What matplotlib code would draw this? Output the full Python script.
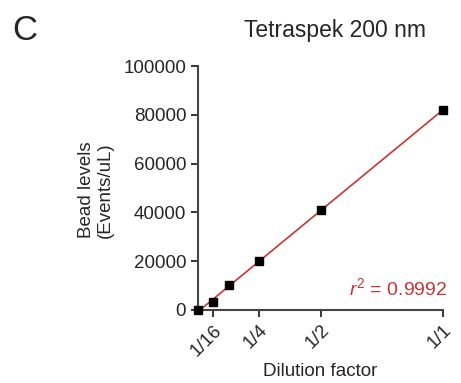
import numpy as np
import matplotlib
matplotlib.use("Agg")
import matplotlib.pyplot as plt

plt.rcParams['font.family'] = ['Liberation Sans', 'DejaVu Sans']
plt.rcParams['mathtext.fontset'] = 'custom'
plt.rcParams['mathtext.rm'] = 'Liberation Sans'
plt.rcParams['mathtext.it'] = 'Liberation Sans:italic'

## data
dilution = [0, 1/16, 1/8, 1/4, 1/2, 1]
beads = [0, 3300, 10200, 20000, 40800, 82000]
xticks = [1/16, 1/4, 1/2, 1]
xticklabels = ["1/16", "1/4", "1/2", "1/1"]
yticks = [0, 20000, 40000, 60000, 80000, 100000]
r2_text = r"$r^2$ = 0.9992"

txt = "#262626"
red = "#cc3333"

fig = plt.figure(figsize=(4.61, 3.83), dpi=100)
ax = fig.add_axes([198/461, 1-310/383, 245/461, 244/383])

# linear fit through the points
x = np.array(dilution)
y = np.array(beads)
slope, icpt = np.polyfit(x, y, 1)
xf = np.array([x.min(), x.max()])
ax.plot(xf, slope*xf + icpt, color=red, lw=1.2, zorder=2)
ax.plot(x, y, ls="none", marker="s", ms=6.3, color="black", zorder=3, clip_on=False)

ax.set_xlim(0, 1)
ax.set_ylim(0, 100000)
ax.set_xticks(xticks)
ax.set_xticklabels(xticklabels, rotation=45, ha="right", rotation_mode="anchor")
ax.set_yticks(yticks)
ax.set_yticklabels([str(v) for v in yticks])
ax.tick_params(labelsize=13.5, colors=txt, width=1.3, length=5, direction="out")
for s in ["top", "right"]:
    ax.spines[s].set_visible(False)
for s in ["left", "bottom"]:
    ax.spines[s].set_color("#444444")
    ax.spines[s].set_linewidth(1.5)

ax.text(1.018, 0.09, r2_text, transform=ax.transAxes, ha="right", va="center",
        color=red, fontsize=14)

fig.text(96/461, 1-190/383, "Bead levels\n(Events/uL)", rotation=90, ha="center", va="center",
         fontsize=13.5, color=txt, linespacing=1.1)
fig.text(320/461, 1-372/383, "Dilution factor", ha="center", va="center", fontsize=13.5, color=txt)
fig.text(335/461, 1-30/383, "Tetraspek 200 nm", ha="center", va="center", fontsize=16.5, color=txt)
fig.text(25/461, 1-31/383, "C", ha="center", va="center", fontsize=25, color=txt)

fig.savefig("out.png", dpi=100)
